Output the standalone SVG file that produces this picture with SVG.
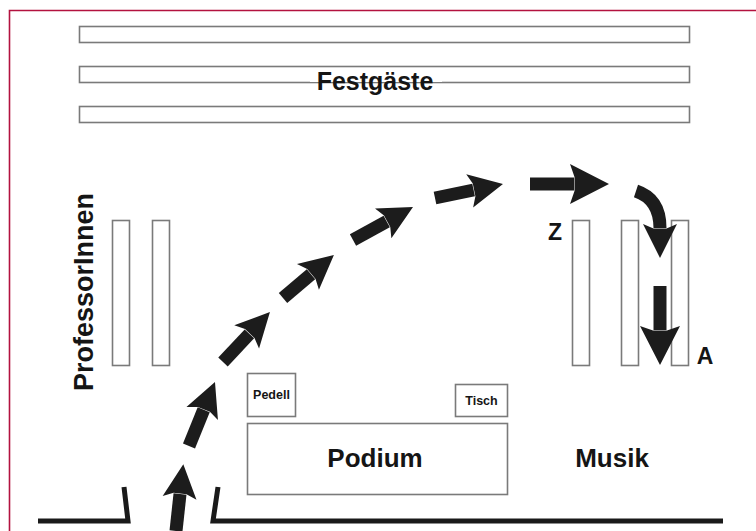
<svg xmlns="http://www.w3.org/2000/svg" width="756" height="531" viewBox="0 0 756 531">
<defs>
<style>
.box{fill:#fff;stroke:#7a7a7a;stroke-width:1.6}
.lbl{font-family:"Liberation Sans",Arial,sans-serif;font-weight:bold;fill:#151515}
.wall{fill:none;stroke:#1a1a1a;stroke-width:5}
.arr{fill:none;stroke:#1c1c1c;stroke-width:13}
</style>
<marker id="h" markerUnits="userSpaceOnUse" markerWidth="40" markerHeight="40" refX="0" refY="0" viewBox="-6 -20 40 40" orient="auto" overflow="visible">
<path d="M-4,-17 L30,0 L-4,17 L0.5,6.5 L0.5,-6.5 Z" fill="#1c1c1c"/>
</marker>
<marker id="H" markerUnits="userSpaceOnUse" markerWidth="44" markerHeight="44" refX="0" refY="0" viewBox="-6 -22 44 44" orient="auto" overflow="visible">
<path d="M-4,-20 L35,0 L-4,20 L0.5,7 L0.5,-7 Z" fill="#1c1c1c"/>
</marker>
</defs>
<rect width="756" height="531" fill="#fff"/>
<path d="M9.5,531 V10.5 H756" fill="none" stroke="#b3123f" stroke-width="1.6"/>

<g id="festgaeste">
<rect class="box" x="79.5" y="26.5" width="610" height="16"/>
<rect class="box" x="79.5" y="66.5" width="610" height="16"/>
<rect class="box" x="79.5" y="106.5" width="610" height="16"/>
<rect x="310" y="68" width="132" height="14" fill="#fff"/>
<text class="lbl" x="375" y="90" font-size="25" text-anchor="middle">Festgäste</text>
</g>

<g id="professoren">
<rect class="box" x="112.5" y="220.5" width="17" height="145"/>
<rect class="box" x="152.5" y="220.5" width="17" height="145"/>
<text class="lbl" transform="translate(93,292) rotate(-90)" font-size="27" text-anchor="middle">ProfessorInnen</text>
</g>

<g id="reihen-rechts">
<rect class="box" x="572.5" y="220.5" width="17" height="145"/>
<rect class="box" x="621.5" y="220.5" width="17" height="145"/>
<rect class="box" x="671.5" y="220.5" width="17" height="145"/>
<text class="lbl" x="555" y="240" font-size="23" text-anchor="middle">Z</text>
<text class="lbl" x="705" y="364" font-size="23" text-anchor="middle">A</text>
</g>

<g id="pedell">
<rect class="box" x="247.5" y="373.5" width="48" height="43"/>
<text class="lbl" x="271.5" y="399" font-size="12.5" text-anchor="middle">Pedell</text>
</g>
<g id="tisch">
<rect class="box" x="455.5" y="384.5" width="52" height="32"/>
<text class="lbl" x="481.5" y="405" font-size="12.5" text-anchor="middle">Tisch</text>
</g>
<g id="podium">
<rect class="box" x="247.5" y="423.5" width="260" height="71"/>
<text class="lbl" x="375" y="467" font-size="26" text-anchor="middle">Podium</text>
</g>
<g id="musik">
<text class="lbl" x="612" y="467" font-size="26" text-anchor="middle">Musik</text>
</g>

<g id="wand">
<path class="wall" d="M38,521 H128 L124,487"/>
<path class="wall" d="M218,487 L213,521 H723"/>
</g>

<g id="connectors">
<path class="arr" d="M176,531 Q178,512 180,494" stroke-width="14" marker-end="url(#h)"/>
<path class="arr" d="M189,446 L203.7,409.8" marker-end="url(#h)"/>
<path class="arr" d="M223,362 L249.4,333.9" marker-end="url(#h)"/>
<path class="arr" d="M283,298 L311,274.3" marker-end="url(#h)"/>
<path class="arr" d="M353,240 L386.7,221.5" marker-end="url(#h)"/>
<path class="arr" d="M435,198 L473.6,190" marker-end="url(#h)"/>
<path class="arr" d="M530,184 L574,184" marker-end="url(#H)"/>
<path class="arr" d="M636,191 Q660,199 660,228" stroke-width="14" marker-end="url(#h)"/>
<path class="arr" d="M660,286 L660,330" marker-end="url(#H)"/>
</g>
</svg>
